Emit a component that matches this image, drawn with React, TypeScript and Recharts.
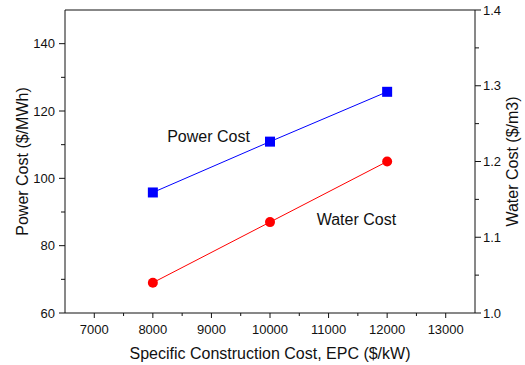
import { Line, LineChart, ReferenceDot, ReferenceLine, XAxis, YAxis } from 'recharts';

const epc = [8000, 10000, 12000];
const powerCost = [95.8, 110.9, 125.7];
const waterCost = [1.04, 1.12, 1.2];

const xTicks = [7000, 7500, 8000, 8500, 9000, 9500, 10000, 10500, 11000, 11500, 12000, 12500, 13000];
const leftTicks = [60, 70, 80, 90, 100, 110, 120, 130, 140];
const rightTicks = [1.0, 1.05, 1.1, 1.15, 1.2, 1.25, 1.3, 1.35, 1.4];

const FONT = 'Arial, "Liberation Sans", sans-serif';
const INK = '#111';

const data = epc.map((x, i) => ({ epc: x, power: powerCost[i], water: waterCost[i] }));

const XTick = (p: any) => {
  const v = p.payload.value;
  const major = v % 1000 === 0;
  return (
    <g>
      <line x1={p.x} x2={p.x} y1={p.y} y2={p.y + (major ? 5 : 3)} stroke={INK} />
      {major && (
        <text x={p.x} y={p.y + 16.5} dy="0.355em" textAnchor="middle" fontSize={13} fontFamily={FONT} fill={INK}>
          {v}
        </text>
      )}
    </g>
  );
};

const LeftTick = (p: any) => {
  const v = p.payload.value;
  const major = v % 20 === 0;
  return (
    <g>
      <line x1={p.x} x2={p.x - (major ? 6 : 4)} y1={p.y} y2={p.y} stroke={INK} />
      {major && (
        <text x={p.x - 10} y={p.y} dy="0.355em" textAnchor="end" fontSize={13} fontFamily={FONT} fill={INK}>
          {v}
        </text>
      )}
    </g>
  );
};

const RightTick = (p: any) => {
  const v = p.payload.value;
  const major = Math.round(v * 100) % 10 === 0;
  return (
    <g>
      <line x1={p.x} x2={p.x + (major ? 6 : 4)} y1={p.y} y2={p.y} stroke={INK} />
      {major && (
        <text x={p.x + 8} y={p.y} dy="0.355em" textAnchor="start" fontSize={13} fontFamily={FONT} fill={INK}>
          {v.toFixed(1)}
        </text>
      )}
    </g>
  );
};

const SquareDot = (p: any) => (
  <rect key={p.index} x={p.cx - 5} y={p.cy - 5} width={10} height={10} fill="#0000ff" />
);

export default function App() {
  return (
    <div style={{ position: 'absolute', left: 0, top: 0 }}>
      <LineChart width={525} height={365} data={data} margin={{ top: 10, right: 0, bottom: 0, left: 0 }}>
        <XAxis
          dataKey="epc"
          type="number"
          domain={[6500, 13500]}
          ticks={xTicks}
          interval={0}
          height={52}
          tickSize={0}
          tickMargin={0}
          tickLine={false}
          tick={XTick}
          axisLine={{ stroke: INK }}
          label={{
            value: 'Specific Construction Cost, EPC ($/kW)',
            position: 'insideBottom',
            offset: 6,
            style: { fontSize: 16, fontFamily: FONT, fill: INK },
          }}
        />
        <YAxis
          yAxisId="left"
          domain={[60, 150]}
          ticks={leftTicks}
          interval={0}
          width={65}
          tickSize={0}
          tickMargin={0}
          tickLine={false}
          tick={LeftTick}
          axisLine={{ stroke: INK }}
          allowDataOverflow
          label={{
            content: (lp: any) => {
              const vb = lp.viewBox;
              const cx = vb.x + 22;
              const cy = vb.y + vb.height / 2;
              return (
                <text x={cx} y={cy} transform={`rotate(-90, ${cx}, ${cy})`} textAnchor="middle" dy="0.355em" fontSize={16} fontFamily={FONT} fill={INK}>
                  Power Cost ($/MWh)
                </text>
              );
            },
          }}
        />
        <YAxis
          yAxisId="right"
          orientation="right"
          domain={[1.0, 1.4]}
          ticks={rightTicks}
          interval={0}
          width={50}
          tickSize={0}
          tickMargin={0}
          tickLine={false}
          tick={RightTick}
          axisLine={{ stroke: INK }}
          allowDataOverflow
          label={{
            content: (lp: any) => {
              const vb = lp.viewBox;
              const cx = vb.x + 37;
              const cy = vb.y + vb.height / 2;
              return (
                <text x={cx} y={cy} transform={`rotate(-90, ${cx}, ${cy})`} textAnchor="middle" dy="0.355em" fontSize={16} fontFamily={FONT} fill={INK}>
                  Water Cost ($/m3)
                </text>
              );
            },
          }}
        />
        <ReferenceLine yAxisId="left" y={150} stroke={INK} />
        <Line
          yAxisId="left"
          dataKey="power"
          stroke="#0000ff"
          strokeWidth={1}
          dot={SquareDot}
          activeDot={false}
          isAnimationActive={false}
        />
        <Line
          yAxisId="right"
          dataKey="water"
          stroke="#ff0000"
          strokeWidth={1}
          dot={{ r: 5, fill: '#ff0000', stroke: 'none' }}
          activeDot={false}
          isAnimationActive={false}
        />
        <ReferenceDot
          yAxisId="left"
          x={8950}
          y={112.5}
          r={0}
          fill="none"
          stroke="none"
          label={{ value: 'Power Cost', position: 'center', style: { fontSize: 16, fontFamily: FONT, fill: INK } }}
        />
        <ReferenceDot
          yAxisId="left"
          x={11475}
          y={87.7}
          r={0}
          fill="none"
          stroke="none"
          label={{ value: 'Water Cost', position: 'center', style: { fontSize: 16, fontFamily: FONT, fill: INK } }}
        />
      </LineChart>
    </div>
  );
}
